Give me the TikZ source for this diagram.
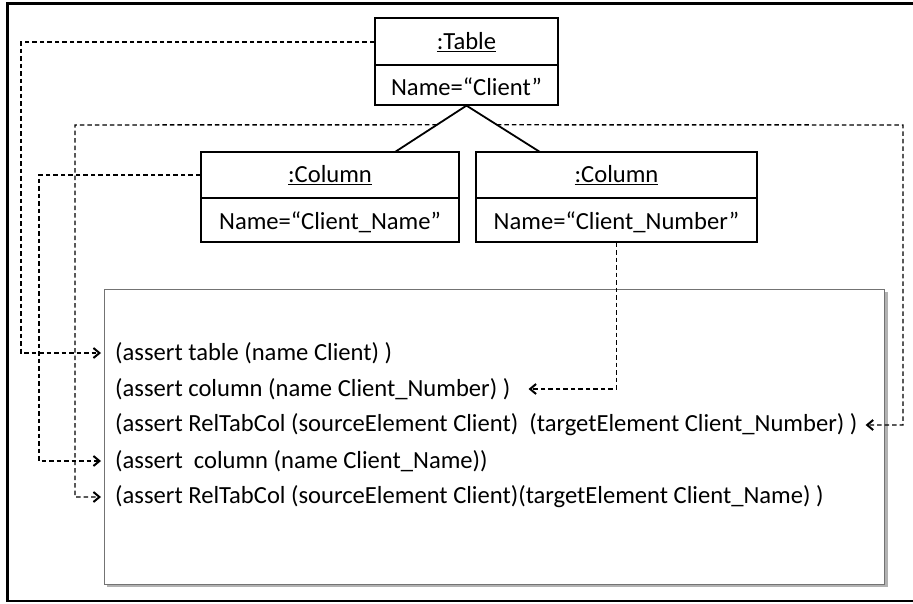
\documentclass[tikz,border=0pt]{standalone}
\usepackage{fontspec}
\setmainfont{Carlito}
\usetikzlibrary{arrows.meta,calc}
\begin{document}
\begin{tikzpicture}[x=1pt,y=-1pt,
  box/.style={draw, line width=1.2pt, fill=white, inner sep=0pt},
  txt/.style={inner sep=0pt, font=\fontsize{24.6}{29}\selectfont},
  line/.style={anchor=west, inner sep=0pt, font=\fontsize{24.6}{29}\selectfont},
  conn/.style={draw, dash pattern=on 4.5pt off 3pt, line width=1.4pt, -{Straight Barb[length=6pt,width=10pt,line width=2pt]}},
  link/.style={draw, line width=1.8pt}]
\useasboundingbox (0,0) rectangle (913,603);
\begin{scope}
\clip (0,0) rectangle (913,603);
\draw[line width=2.5pt] (7.5,3.5) rectangle (930,601);
\end{scope}
% big box
\fill[black!30] (107,292) rectangle (888,587);
\node[draw=black!55, fill=white, line width=1pt, minimum width=780pt, minimum height=295pt, inner sep=0pt] (big) at (494,436.5) {};
% table
\node[box, minimum width=183pt, minimum height=87pt] (tbl) at (466.5,61.5) {};
\draw[line width=1.2pt] (tbl.west |- 0,65) -- (tbl.east |- 0,65);
\node[txt] (tbltitle) at (466.5,42) {\underline{:Table}};
\node[txt] (tblname) at (466.5,87) {Name=“Client”};
% columns
\node[box, minimum width=258pt, minimum height=90pt] (c1) at (330,197) {};
\draw[line width=1.2pt] (c1.west |- 0,198) -- (c1.east |- 0,198);
\node[txt] (c1title) at (330,175) {\underline{:Column}};
\node[txt] (c1name) at (330,222) {Name=“Client\_Name”};
\node[box, minimum width=281pt, minimum height=90pt] (c2) at (616.5,197) {};
\draw[line width=1.2pt] (c2.west |- 0,198) -- (c2.east |- 0,198);
\node[txt] (c2title) at (616.5,175) {\underline{:Column}};
\node[txt] (c2name) at (616.5,222) {Name=“Client\_Number”};
% links
\coordinate (c1t) at (395,152);
\coordinate (c2t) at (540,152);
\draw[link] (c1t) -- (tbl.south) -- (c2t);
\coordinate (pl) at ($(tbl.south)!0.413!(c1t)$);
\coordinate (pr) at ($(tbl.south)!0.413!(c2t)$);
% text lines
\node[line] (l1) at (115,353) {(assert table (name Client) )};
\node[line] (l2) at (115,389) {(assert column (name Client\_Number) )};
\node[line] (l3) at (115,425) {(assert RelTabCol (sourceElement Client)\ \ (targetElement Client\_Number) )};
\node[line] (l4) at (115,461) {(assert\ \ column (name Client\_Name))};
\node[line] (l5) at (115,497) {(assert RelTabCol (sourceElement Client)(targetElement Client\_Name) )};
% connectors
\draw[conn] (tbl.west |- tbltitle) -- (21,42) |- ([xshift=-14pt]l1.west);
\draw[conn] (c1.west |- c1title) -- (39,175) |- ([xshift=-14pt]l4.west);
\draw[conn] (pl) -- (75,125) |- ([xshift=-14pt]l5.west);
\draw[conn] (pr) -- (903,125) |- ([xshift=8pt]l3.east);
\draw[conn] (c2.south) |- ([xshift=18pt]l2.east);
\end{tikzpicture}
\end{document}
